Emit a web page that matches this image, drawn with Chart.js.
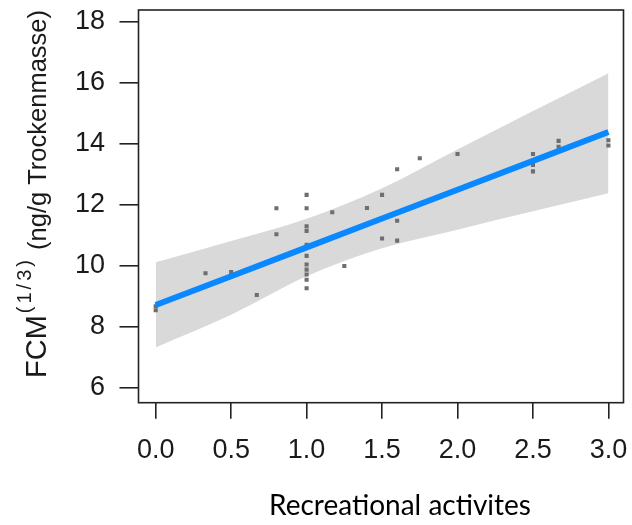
<!DOCTYPE html>
<html><head><meta charset="utf-8">
<script src="https://cdn.jsdelivr.net/npm/chart.js@4.4.1/dist/chart.umd.min.js"></script>
<style>html,body{margin:0;padding:0;background:#fff;} #wrap{width:632px;height:525px;position:relative;}</style>
</head><body><div id="wrap"><canvas id="c" width="632" height="525"></canvas></div>
<script>
// ---- data ----
const xTickValues = [0, 0.5, 1, 1.5, 2, 2.5, 3];
const xTickLabels = ['0.0', '0.5', '1.0', '1.5', '2.0', '2.5', '3.0'];
const yTickValues = [6, 8, 10, 12, 14, 16, 18];
const yTickLabels = ['6', '8', '10', '12', '14', '16', '18'];

const obsX = [0, 0, 0.33, 0.5, 0.67, 0.8, 0.8, 1, 1, 1, 1, 1, 1, 1, 1, 1, 1, 1,
              1.17, 1.25, 1.4, 1.5, 1.5, 1.6, 1.6, 1.6, 1.75, 2, 2.5, 2.5, 2.5, 2.67, 2.67, 3, 3];
const obsY = [8.55, 8.68, 9.76, 9.8, 9.05, 11.89, 11.04, 12.33, 11.89, 11.3, 11.15, 10.69, 10.33, 10.05, 9.88, 9.72, 9.55, 9.27,
              11.76, 10.0, 11.9, 12.33, 10.9, 13.17, 11.48, 10.83, 13.53, 13.67, 13.67, 13.31, 13.1, 14.1, 13.91, 14.12, 13.95];

const fitX = [0, 0.5, 1, 1.5, 2, 2.5, 3];
const fitY = [8.72, 9.665, 10.61, 11.555, 12.5, 13.445, 14.39];
const bandUpper = [10.12, 10.82, 11.55, 12.55, 13.82, 15.08, 16.32];
const bandLower = [7.33, 8.40, 9.66, 10.58, 11.19, 11.79, 12.38];

const xTitle = 'Recreational activites';
const yTitleMain = 'FCM';
const yTitleSup = '(1/3)';
const yTitleRest = ' (ng/g Trockenmasse)';

// ---- chart ----
const pts = (xs, ys) => xs.map((x, i) => ({x: x, y: ys[i]}));
const TXT = '#1a1a1a';
const SANS = '"Liberation Sans", Arial, sans-serif';

const frame = {
  id: 'frame',
  afterDraw(chart) {
    const {ctx, chartArea: a} = chart;
    ctx.save();
    ctx.strokeStyle = '#222';
    ctx.lineWidth = 1.6;
    ctx.strokeRect(a.left, a.top, a.right - a.left, a.bottom - a.top);
    // x title
    ctx.fillStyle = '#000';
    ctx.font = '28px Lato, "Open Sans", sans-serif';
    ctx.textAlign = 'center';
    ctx.textBaseline = 'alphabetic';
    ctx.fillText(xTitle, 400, 515);
    // y title (rotated, with superscript)
    ctx.translate(45.5, 378);
    ctx.rotate(-Math.PI / 2);
    ctx.fillStyle = TXT;
    ctx.textAlign = 'left';
    ctx.font = '29px ' + SANS;
    ctx.fillText(yTitleMain, 0, 0);
    let w = ctx.measureText(yTitleMain).width + 2;
    ctx.font = '20px ' + SANS;
    try { ctx.letterSpacing = '3px'; } catch (e) {}
    ctx.fillText(yTitleSup, w, -15);
    w += ctx.measureText(yTitleSup).width;
    try { ctx.letterSpacing = '0px'; } catch (e) {}
    ctx.font = '25.5px ' + SANS;
    ctx.fillText(yTitleRest, w, 0);
    ctx.restore();
  }
};

const noPad = (s) => { s.paddingLeft = 0; s.paddingRight = 0; s.paddingTop = 0; s.paddingBottom = 0; };

new Chart(document.getElementById('c'), {
  type: 'line',
  data: {
    datasets: [
      {label: 'upper', data: pts(fitX, bandUpper), borderWidth: 0, borderColor: 'rgba(0,0,0,0)',
       pointRadius: 0, fill: '+1', backgroundColor: '#d9d9d9', order: 3, cubicInterpolationMode: 'monotone'},
      {label: 'lower', data: pts(fitX, bandLower), borderWidth: 0, borderColor: 'rgba(0,0,0,0)',
       pointRadius: 0, fill: false, order: 3, cubicInterpolationMode: 'monotone'},
      {label: 'obs', data: pts(obsX, obsY), showLine: false, pointStyle: 'rect', pointRadius: 2.9,
       pointBackgroundColor: '#6e6e6e', pointBorderWidth: 0, pointBorderColor: 'rgba(0,0,0,0)', order: 2},
      {label: 'fit', data: pts(fitX, fitY), borderColor: '#0a88ff', borderWidth: 6,
       pointRadius: 0, fill: false, order: 1}
    ]
  },
  options: {
    responsive: false,
    animation: false,
    layout: {padding: {left: 0, top: 10, right: 8.5, bottom: 0}},
    plugins: {legend: {display: false}, tooltip: {enabled: false}},
    scales: {
      x: {
        type: 'linear', min: -0.114, max: 3.10,
        afterFit(s) { s.height = 122.3; noPad(s); },
        afterBuildTicks(s) { s.ticks = xTickValues.map(v => ({value: v})); },
        ticks: {
          callback: (v) => xTickLabels[xTickValues.indexOf(v)],
          font: {family: SANS, size: 27}, color: TXT, padding: 16, maxRotation: 0, autoSkip: false
        },
        grid: {drawOnChartArea: false, drawTicks: true, tickLength: 16, color: '#222', lineWidth: 1.6},
        border: {display: false}
      },
      y: {
        type: 'linear', min: 5.518, max: 18.39,
        afterFit(s) { s.width = 138.5; noPad(s); },
        afterBuildTicks(s) { s.ticks = yTickValues.map(v => ({value: v})); },
        ticks: {
          callback: (v) => yTickLabels[yTickValues.indexOf(v)],
          font: {family: SANS, size: 27}, color: TXT, padding: 14.5, autoSkip: false
        },
        grid: {drawOnChartArea: false, drawTicks: true, tickLength: 19, color: '#222', lineWidth: 1.6},
        border: {display: false}
      }
    }
  },
  plugins: [frame]
});
</script>
</body></html>
